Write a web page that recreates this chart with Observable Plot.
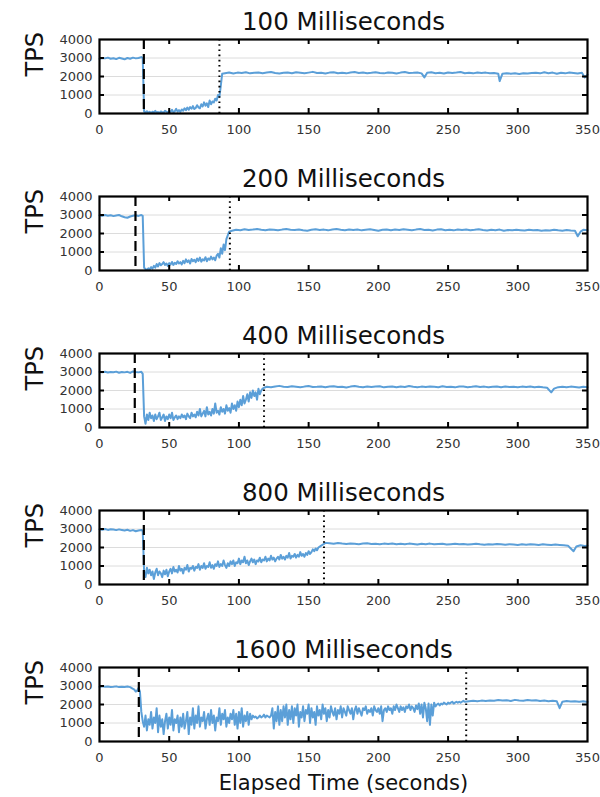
<!DOCTYPE html>
<html>
<head>
<meta charset="utf-8">
<script src="https://cdn.jsdelivr.net/npm/d3@7"></script>
<script src="https://cdn.jsdelivr.net/npm/@observablehq/plot@0.6"></script>
<style>
  html, body { margin: 0; padding: 0; background: #fff; }
  #chart svg { display: block; }
</style>
</head>
<body>
<div id="chart"></div>
<script>
const xTicks = [0, 50, 100, 150, 200, 250, 300, 350];
const yTicks = [0, 1000, 2000, 3000, 4000];
const titles = ["100 Milliseconds", "200 Milliseconds", "400 Milliseconds", "800 Milliseconds", "1600 Milliseconds"];
const failTime = [31.8, 25.8, 25.3, 31.8, 28.2];
const recoverTime = [86, 93.5, 118, 161, 263];

const tps100 = [[0,2950],[2,3000],[4,2980],[6,3020],[8,2960],[10,2990],[12,2940],[14,3010],[16,2970],[18,2930],[20,3000],[22,2960],[24,3020],[26,2980],[28,3000],[30,3050],[31,3000],[32,100],
[33,60],[34,120],[35,40],[36,90],[37,30],[38,100],[39,60],[40,140],[41,50],[42,80],[43,30],[44,110],[45,70],[46,40],[47,150],[48,90],[49,60],[50,130],[51,80],[52,200],[53,60],[54,120],[55,250],[56,100],[57,180],[58,90],[59,220],[60,150],[61,280],[62,180],[63,320],[64,200],[65,350],[66,260],[67,400],[68,240],[69,300],[70,450],[71,330],[72,280],[73,500],[74,380],[75,600],[76,420],[77,550],[78,350],[79,700],[80,500],[81,650],[82,600],[83,800],[84,700],[85,1000],[86,900],[87,1500],[88,2150],
[90,2180],[93,2220],[96,2160],[99,2210],[102,2190],[105,2230],[108,2170],[111,2200],[114,2220],[117,2180],[120,2210],[123,2240],[126,2190],[129,2160],[132,2200],[135,2220],[138,2180],[141,2230],[144,2200],[147,2170],[150,2210],[153,2250],[156,2190],[159,2200],[162,2160],[165,2210],[168,2230],[171,2180],[174,2200],[177,2170],[180,2220],[183,2240],[186,2190],[189,2210],[192,2180],[195,2200],[198,2230],[201,2190],[204,2170],[207,2220],[210,2200],[213,2160],[216,2210],[219,2240],[222,2190],[225,2200],[228,2220],[231,2170],[233,1950],[235,2200],[238,2230],[241,2180],[244,2200],[247,2160],[250,2220],[253,2190],[256,2210],[259,2240],[262,2180],[265,2200],[268,2170],[271,2220],[274,2190],[277,2210],[280,2170],[283,2190],[286,2150],[287,1750],[289,2150],[292,2180],[295,2150],[298,2170],[301,2140],[304,2180],[307,2160],[310,2190],[313,2200],[316,2170],[319,2230],[322,2180],[325,2210],[328,2150],[331,2200],[334,2170],[337,2220],[340,2190],[343,2160],[346,2200],[348,1950],[350,2100]];

const tps200 = [[0,2980],[2,2950],[4,3000],[6,2960],[8,2990],[10,2940],[12,2970],[14,3000],[16,2930],[18,2880],[20,2850],[22,2920],[24,2960],[26,2990],[28,2950],[30,3000],[31,2950],[32,150],
[33,80],[34,30],[35,120],[36,60],[37,180],[38,100],[39,250],[40,150],[41,350],[42,220],[43,400],[44,280],[45,350],[46,450],[47,300],[48,380],[49,250],[50,400],[51,320],[52,460],[53,300],[54,420],[55,350],[56,500],[57,380],[58,450],[59,330],[60,520],[61,400],[62,600],[63,450],[64,550],[65,380],[66,620],[67,500],[68,580],[69,450],[70,650],[71,520],[72,700],[73,480],[74,600],[75,550],[76,720],[77,500],[78,650],[79,580],[80,750],[81,600],[82,700],[83,550],[84,800],[85,900],[86,700],[87,1200],[88,900],[89,1400],[90,1100],[91,1700],[92,1900],[93,2100],
[95,2150],[98,2200],[101,2180],[104,2230],[107,2190],[110,2210],[113,2240],[116,2200],[119,2180],[122,2220],[125,2200],[128,2170],[131,2210],[134,2240],[137,2200],[140,2190],[143,2220],[146,2180],[149,2150],[152,2200],[155,2230],[158,2190],[161,2210],[164,2170],[167,2220],[170,2240],[173,2200],[176,2180],[179,2210],[182,2190],[185,2220],[188,2170],[191,2200],[194,2230],[197,2190],[200,2150],[203,2200],[206,2220],[209,2180],[212,2210],[215,2190],[218,2230],[221,2200],[224,2170],[227,2210],[230,2240],[233,2190],[236,2200],[239,2160],[242,2210],[245,2230],[248,2180],[251,2200],[254,2170],[257,2220],[260,2190],[263,2210],[266,2180],[269,2200],[272,2230],[275,2190],[278,2160],[281,2200],[284,2180],[287,2210],[290,2150],[293,2190],[296,2170],[299,2200],[302,2180],[305,2160],[308,2200],[311,2170],[314,2190],[317,2150],[320,2180],[323,2160],[326,2200],[329,2170],[332,2150],[335,2190],[338,2160],[341,2150],[343,1850],[345,2100],[347,2200],[350,2180]];

const tps400 = [[0,3000],[2,2980],[4,3010],[6,2970],[8,3000],[10,2990],[12,3020],[14,2960],[16,3000],[18,2980],[20,3010],[22,2950],[24,3030],[26,3000],[28,2980],[30,3010],[31,2900],[32,600],[33,200],
[34,700],[35,400],[36,800],[37,500],[38,650],[39,350],[40,700],[41,450],[42,600],[43,800],[44,400],[45,550],[46,700],[47,350],[48,600],[49,450],[50,700],[51,500],[52,800],[53,400],[54,550],[55,650],[56,450],[57,600],[58,500],[59,700],[60,550],[61,650],[62,450],[63,750],[64,600],[65,500],[66,800],[67,600],[68,700],[69,550],[70,850],[71,650],[72,1000],[73,600],[74,750],[75,900],[76,600],[77,1100],[78,700],[79,850],[80,650],[81,1000],[82,750],[83,1300],[84,800],[85,900],[86,700],[87,1100],[88,850],[89,1000],[90,750],[91,1200],[92,900],[93,1050],[94,800],[95,1300],[96,1000],[97,1200],[98,900],[99,1400],[100,1100],[101,1500],[102,1200],[103,1700],[104,1300],[105,1500],[106,1800],[107,1400],[108,1900],[109,1600],[110,2000],[111,1700],[112,1900],[113,1500],[114,2100],[115,1800],[116,2000],[117,2100],[118,2150],
[120,2200],[123,2180],[126,2220],[129,2250],[132,2200],[135,2190],[138,2230],[141,2200],[144,2170],[147,2210],[150,2240],[153,2190],[156,2200],[159,2220],[162,2180],[165,2210],[168,2230],[171,2190],[174,2200],[177,2160],[180,2210],[183,2240],[186,2200],[189,2180],[192,2220],[195,2190],[198,2210],[201,2230],[204,2170],[207,2200],[210,2220],[213,2180],[216,2210],[219,2190],[222,2240],[225,2200],[228,2170],[231,2210],[234,2190],[237,2220],[240,2200],[243,2180],[246,2230],[249,2190],[252,2200],[255,2170],[258,2220],[261,2210],[264,2180],[267,2200],[270,2230],[273,2190],[276,2210],[279,2170],[282,2200],[285,2220],[288,2180],[291,2210],[294,2190],[297,2200],[300,2170],[303,2210],[306,2190],[309,2220],[312,2180],[315,2200],[318,2170],[321,2150],[324,1900],[326,2100],[329,2180],[332,2200],[335,2170],[338,2210],[341,2190],[344,2160],[347,2200],[350,2180]];

const tps800 = [[0,2980],[2,2960],[4,3000],[6,2950],[8,2990],[10,2970],[12,2940],[14,2980],[16,2950],[18,2920],[20,2960],[22,2900],[24,2940],[26,2880],[28,2920],[30,2950],[31,2900],[32,700],
[33,400],[34,900],[35,600],[36,800],[37,500],[38,700],[39,300],[40,650],[41,850],[42,500],[43,700],[44,600],[45,400],[46,750],[47,550],[48,800],[49,450],[50,700],[51,850],[52,600],[53,950],[54,700],[55,800],[56,650],[57,1000],[58,750],[59,850],[60,600],[61,900],[62,800],[63,1050],[64,700],[65,900],[66,850],[67,1000],[68,750],[69,950],[70,900],[71,1100],[72,800],[73,1000],[74,900],[75,1150],[76,850],[77,1000],[78,950],[79,1200],[80,900],[81,1050],[82,850],[83,1100],[84,1000],[85,1250],[86,950],[87,1100],[88,1000],[89,1300],[90,1050],[91,900],[92,1150],[93,1000],[94,1250],[95,1100],[96,1300],[97,1000],[98,1200],[99,1150],[100,1400],[101,1100],[102,1300],[103,1200],[104,1500],[105,1150],[106,1300],[107,1050],[108,1250],[109,1400],[110,1200],[111,1350],[112,1100],[113,1300],[114,1250],[115,1450],[116,1200],[117,1350],[118,1300],[119,1500],[120,1250],[121,1400],[122,1300],[123,1550],[124,1350],[125,1450],[126,1250],[127,1400],[128,1500],[129,1350],[130,1600],[131,1400],[132,1500],[133,1350],[134,1550],[135,1450],[136,1700],[137,1400],[138,1550],[139,1500],[140,1650],[141,1450],[142,1600],[143,1500],[144,1750],[145,1550],[146,1650],[147,1500],[148,1700],[149,1600],[150,1800],[151,1650],[152,1750],[153,1900],[154,1800],[155,1950],[156,1850],[157,2000],[158,2050],[159,2100],[160,2150],[161,2200],[162,2250],
[165,2230],[168,2200],[171,2240],[174,2210],[177,2190],[180,2220],[183,2200],[186,2180],[189,2210],[192,2230],[195,2190],[198,2200],[201,2170],[204,2210],[207,2190],[210,2220],[213,2180],[216,2200],[219,2170],[222,2210],[225,2190],[228,2160],[231,2200],[234,2180],[237,2210],[240,2170],[243,2190],[246,2200],[249,2160],[252,2180],[255,2200],[258,2170],[261,2190],[264,2160],[267,2180],[270,2200],[273,2170],[276,2150],[279,2180],[282,2160],[285,2190],[288,2170],[291,2150],[294,2180],[297,2160],[300,2140],[303,2170],[306,2150],[309,2180],[312,2160],[315,2140],[318,2170],[321,2150],[324,2130],[327,2160],[330,2140],[333,2120],[336,2100],[338,1950],[340,1800],[342,2050],[345,2120],[348,2080],[350,2100]];

const tps1600 = [[0,2950],[2,2980],[4,2960],[6,2970],[8,2950],[10,2960],[12,2980],[14,2940],[16,2960],[18,2950],[20,2970],[22,2940],[24,2850],[25,2800],[26,2700],[27,2750],[28,2900],[29,2700],[30,1600],
[31,1100],[32,800],[33,1400],[34,600],[35,1200],[36,900],[37,1600],[38,700],[39,1300],[40,1000],[41,1800],[42,500],[43,1400],[44,800],[45,1200],[46,400],[47,1100],[48,1500],[49,700],[50,1300],[51,900],[52,1700],[53,600],[54,1200],[55,1000],[56,1400],[57,500],[58,1300],[59,800],[60,1500],[61,700],[62,1100],[63,1600],[64,400],[65,1300],[66,900],[67,1800],[68,700],[69,1400],[70,1000],[71,1900],[72,800],[73,1300],[74,1100],[75,1600],[76,700],[77,1200],[78,1500],[79,900],[80,1700],[81,1000],[82,1400],[83,600],[84,1300],[85,1100],[86,1800],[87,900],[88,1500],[89,1200],[90,1700],[91,800],[92,1300],[93,1000],[94,1500],[95,1200],
[96,1700],[97,900],[98,1500],[99,700],[100,1600],[101,1000],[102,1800],[103,800],[104,1400],[105,1100],[106,1600],[107,900],[108,1500],[109,1200],[110,1400],[111,1300],[112,1350],[113,1250],[114,1300],[115,1400],[116,1300],[117,1350],[118,1450],[119,1300],[120,1400],[121,1350],[122,1300],[123,1400],[124,1800],[125,700],[126,1600],[127,1100],[128,1900],[129,900],[130,1700],
[131,1100],[132,1900],[133,1300],[134,2000],[135,900],[136,1700],[137,1200],[138,1900],[139,1000],[140,1800],[141,1400],[142,2000],[143,800],[144,1600],[145,1300],[146,1900],[147,1100],[148,1700],[149,1500],[150,2000],[151,1000],[152,1800],[153,1300],[154,1600],[155,900],[156,1900],[157,1400],[158,1700],[159,1200],[160,2000],[161,1500],[162,1800],[163,1100],[164,1700],[165,1300],[166,1900],[167,1600],[168,1400],[169,1800],[170,1200],
[171,1700],[172,1500],[173,1900],[174,1300],[175,1800],[176,1600],[177,1400],[178,1900],[179,1700],[180,1500],[181,1800],[182,1200],[183,1700],[184,1900],[185,1500],[186,1800],[187,1600],[188,1400],[189,1800],[190,1700],[191,1900],[192,1500],[193,1700],[194,1600],[195,1800],[196,1400],[197,1900],[198,1700],[199,1600],[200,1800],[201,1500],[202,1900],[203,1100],[204,1700],[205,1800],[206,1600],[207,1900],[208,1700],[209,1800],[210,1500],[211,1900],[212,1700],[213,2000],[214,1800],[215,1600],[216,1900],[217,1700],[218,1850],[219,1600],[220,1900],[221,1800],[222,2000],[223,1700],[224,1900],[225,1800],[226,1600],[227,1950],[228,1750],[229,2050],[230,1500],[231,2000],[232,1300],[233,2100],[234,1800],[235,1100],[236,2050],[237,900],[238,2000],[239,1400],[240,2100],
[241,1900],[242,2000],[243,2050],[244,1950],[245,2050],[246,2000],[247,2100],[248,2050],[249,2000],[250,2100],[251,2050],[252,2100],[253,2150],[254,2050],[255,2100],[256,2150],[257,2100],[258,2150],[259,2100],[260,2150],[261,2200],[262,2150],
[265,2180],[268,2200],[271,2170],[274,2210],[277,2190],[280,2220],[283,2200],[286,2240],[289,2210],[292,2230],[295,2190],[298,2250],[301,2220],[304,2200],[307,2240],[310,2210],[313,2230],[316,2190],[319,2210],[322,2180],[325,2200],[328,2170],[330,1800],[332,2150],[335,2190],[338,2160],[341,2180],[344,2150],[347,2170],[350,2140]];

const series = [tps100, tps200, tps400, tps800, tps1600];

const FONT = "DejaVu Sans, Liberation Sans, sans-serif";
const W = 600, ML = 99, MR = 13, MT = 39, PH = 74, MB = 44;
const PW = W - ML - MR;
const chart = document.getElementById("chart");

series.forEach((data, i) => {
  const last = i === series.length - 1;
  const height = MT + PH + (last ? MB + 12 : MB);
  const marks = [
    Plot.gridY(yTicks.slice(1, -1), {stroke: "#dcdcdc", strokeOpacity: 1, strokeWidth: 1}),
    Plot.line(data, {x: d => d[0], y: d => d[1], stroke: "#5b9fd8", strokeWidth: 2, strokeLinejoin: "round"}),
    Plot.ruleX([failTime[i]], {stroke: "#000", strokeWidth: 2.2, strokeDasharray: "10,5"}),
    Plot.ruleX([recoverTime[i]], {stroke: "#000", strokeWidth: 2, strokeDasharray: "1.6,3.6"}),
    Plot.frame({stroke: "#000", strokeWidth: 2.2}),
    Plot.ruleX(xTicks.slice(1, -1), {stroke: "#000", strokeWidth: 2, insetTop: PH - 5}),
    Plot.ruleX(xTicks.slice(1, -1), {stroke: "#000", strokeWidth: 2, insetBottom: PH - 5}),
    Plot.ruleY(yTicks.slice(1, -1), {stroke: "#000", strokeWidth: 2, insetRight: PW - 5}),
    Plot.ruleY(yTicks.slice(1, -1), {stroke: "#000", strokeWidth: 2, insetLeft: PW - 5}),
    Plot.axisX({ticks: xTicks, tickSize: 0, tickPadding: 11, fontSize: 13, fill: "#333", label: null, tickFormat: d => String(d)}),
    Plot.axisY({ticks: yTicks, tickSize: 0, tickPadding: 7, fontSize: 13, fill: "#333", label: null, tickFormat: d => String(d)}),
    Plot.text([titles[i]], {frameAnchor: "top", dy: -10, lineAnchor: "bottom", fontSize: 24.5, fill: "#111"}),
    Plot.text(["TPS"], {frameAnchor: "left", dx: -64, rotate: -90, fontSize: 24, fill: "#111"})
  ];
  if (last) {
    marks.push(Plot.text(["Elapsed Time (seconds)"], {frameAnchor: "bottom", dy: 48, lineAnchor: "bottom", fontSize: 21, fill: "#111"}));
  }
  const svg = Plot.plot({
    width: W,
    height,
    marginLeft: ML,
    marginRight: MR,
    marginTop: MT,
    marginBottom: height - MT - PH,
    style: {fontFamily: FONT, background: "#fff", overflow: "visible"},
    x: {domain: [0, 350], axis: null},
    y: {domain: [0, 4000], axis: null},
    marks
  });
  chart.appendChild(svg);
});
</script>
</body>
</html>
